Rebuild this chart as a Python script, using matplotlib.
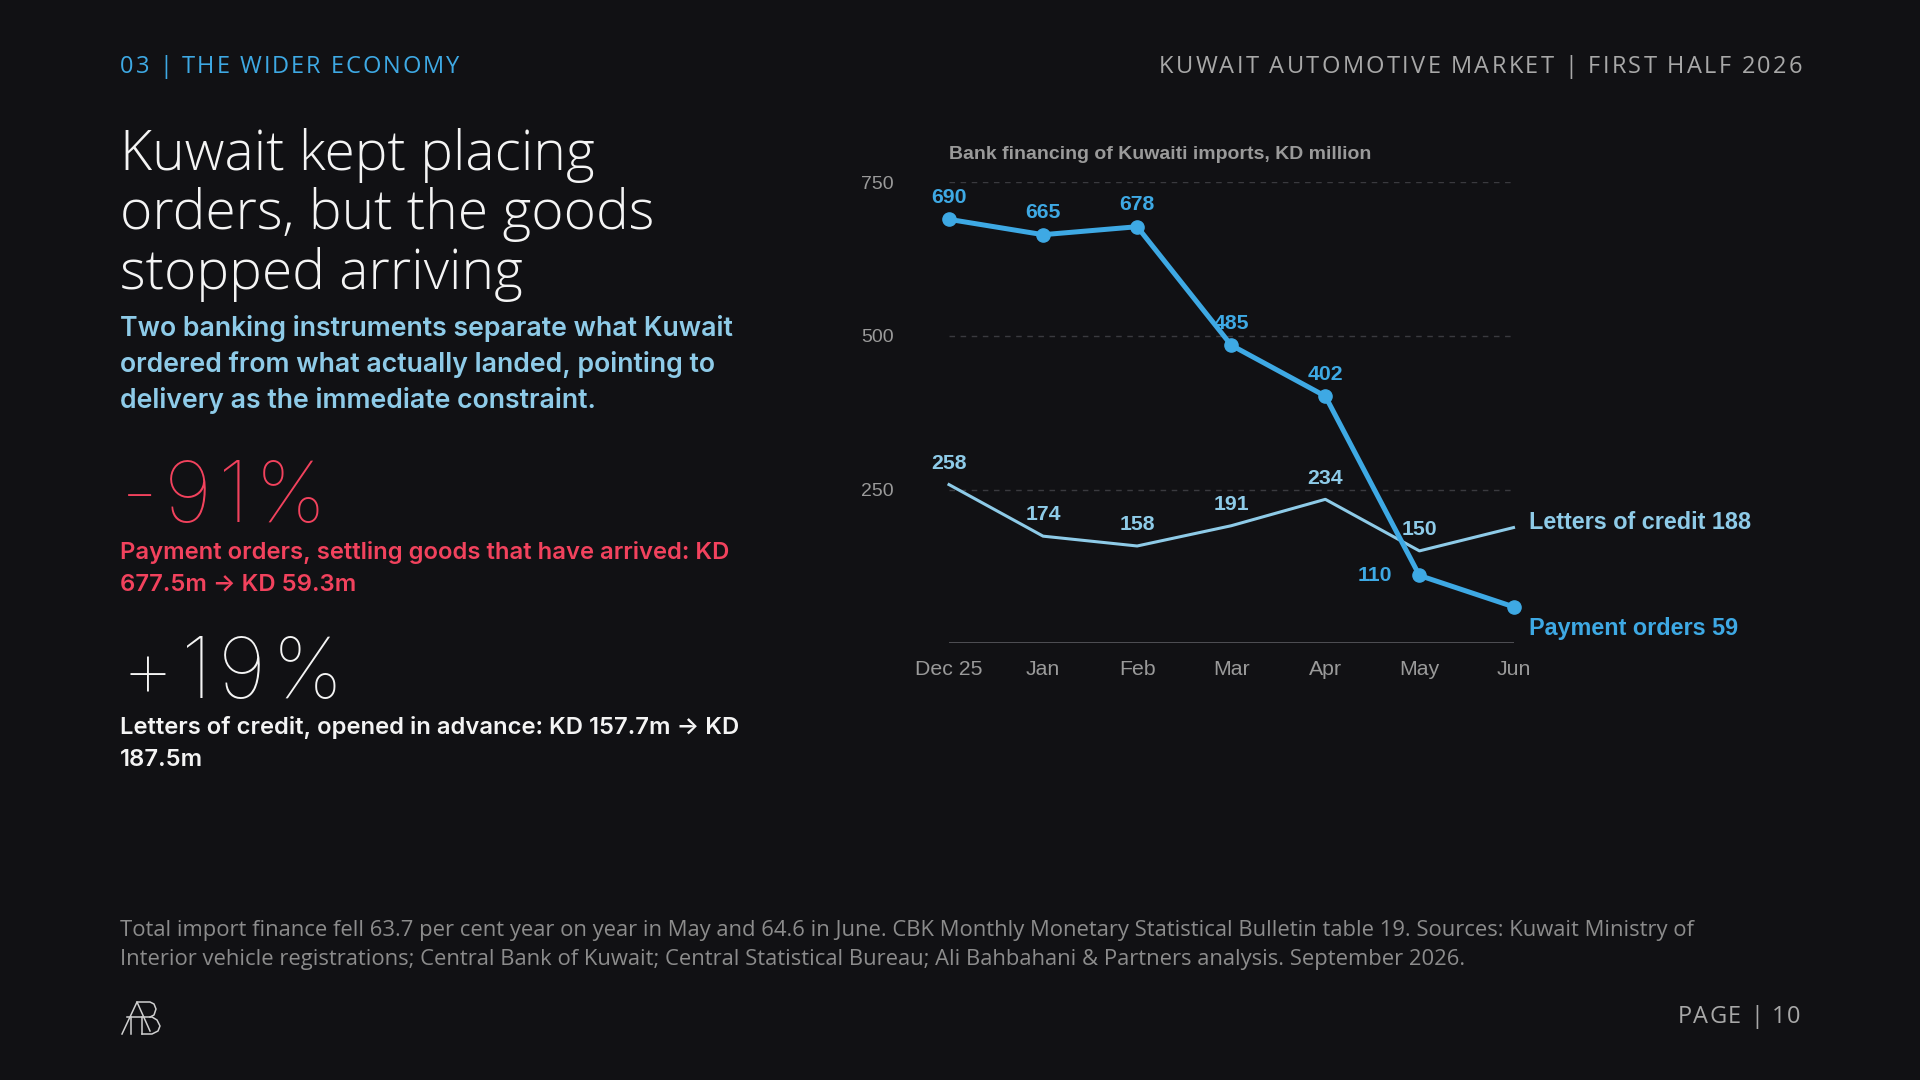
import numpy as np
import matplotlib.pyplot as plt
from matplotlib.lines import Line2D

# data
months = ["Dec 25", "Jan", "Feb", "Mar", "Apr", "May", "Jun"]
payment_orders = [690, 665, 678, 485, 402, 110, 59]
letters_of_credit = [258, 174, 158, 191, 234, 150, 188]
y_ticks = [250, 500, 750]

BG = "#111114"
BLUE = "#3ea9e4"
LIGHT = "#8ecbe8"
RED = "#f2425d"
GREY = "#9a9a9a"

HEAD_FONT = ["Open Sans", "Lato", "DejaVu Sans"]
BODY_FONT = ["Inter", "Lato", "DejaVu Sans"]
CHART_FONT = ["Liberation Sans", "DejaVu Sans"]

fig = plt.figure(figsize=(19.2, 10.8), dpi=100, facecolor=BG)
renderer = fig.canvas.get_renderer()


def put(x, y, s, **kw):
    # x, y in pixels from top-left of the 1920x1080 canvas
    kw.setdefault("va", "baseline")
    return fig.text(x / 1920, 1 - y / 1080, s, **kw)


def width_of(t):
    return t.get_window_extent(renderer).width


def fit(t, target):
    # scale font so the line spans the same width as in the reference
    t.set_fontsize(t.get_fontsize() * target / width_of(t))
    return t.get_fontsize()


def tracked(x, y, s, target, ha="left", **kw):
    # letter-spaced line, spread to the reference width
    probe = put(0, 0, s, **kw)
    natural = width_of(probe)
    probe.remove()
    gap = (target - natural) / (len(s) - 1)
    start = x if ha == "left" else x - target
    for i, ch in enumerate(s):
        if ch == " ":
            continue
        p = put(0, 0, s[:i + 1], **kw)
        q = put(0, 0, ch, **kw)
        left = width_of(p) - width_of(q)
        p.remove()
        q.remove()
        put(start + left + i * gap, y, ch, **kw)


# header / footer
tracked(120, 73, "03 | THE WIDER ECONOMY", 339, color=BLUE, fontsize=17, family=HEAD_FONT)
tracked(1802, 73, "KUWAIT AUTOMOTIVE MARKET | FIRST HALF 2026", 643, ha="right",
        color="#a8a8a8", fontsize=17, family=HEAD_FONT)
tracked(1800, 1023, "PAGE | 10", 122, ha="right", color="#a8a8a8", fontsize=17,
        family=HEAD_FONT)

# left column
title = ["Kuwait kept placing", "orders, but the goods", "stopped arriving"]
title_w = [486, 525, 400]
tl = [put(120, 170 + i * 59.5, line, color="#f4f4f4", fontsize=38, family=HEAD_FONT,
          weight="light") for i, line in enumerate(title)]
scale = sum(title_w) / sum(width_of(t) for t in tl)
for t in tl:
    t.set_fontsize(38 * scale)

sub = ["Two banking instruments separate what Kuwait",
       "ordered from what actually landed, pointing to",
       "delivery as the immediate constraint."]
sl = [put(120, 336 + i * 36, line, color=LIGHT, fontsize=18, family=BODY_FONT,
          weight="semibold") for i, line in enumerate(sub)]
fs = fit(sl[0], 612)
for t in sl[1:]:
    t.set_fontsize(fs)

tracked(121, 522, "-91%", 205, color=RED, fontsize=61, family=BODY_FONT, weight=100)
r1 = put(120, 559, "Payment orders, settling goods that have arrived: KD", color=RED,
         fontsize=15, family=BODY_FONT, weight="semibold")
fs = fit(r1, 611)
put(120, 591, "677.5m \u2192 KD 59.3m", color=RED, fontsize=fs, family=BODY_FONT,
    weight="semibold")

tracked(121, 698, "+19%", 222, color="#f4f4f4", fontsize=61, family=BODY_FONT, weight=100)
w1 = put(120, 734, "Letters of credit, opened in advance: KD 157.7m \u2192 KD", color="#f4f4f4",
         fontsize=15, family=BODY_FONT, weight="semibold")
fs = fit(w1, 620)
put(120, 766, "187.5m", color="#f4f4f4", fontsize=fs, family=BODY_FONT, weight="semibold")

foot = ["Total import finance fell 63.7 per cent year on year in May and 64.6 in June. "
        "CBK Monthly Monetary Statistical Bulletin table 19. Sources: Kuwait Ministry of",
        "Interior vehicle registrations; Central Bank of Kuwait; Central Statistical Bureau; "
        "Ali Bahbahani & Partners analysis. September 2026."]
fl = [put(120, 936 + i * 29.5, line, color="#8c8c8c", fontsize=14.5, family=HEAD_FONT)
      for i, line in enumerate(foot)]
fs = fit(fl[0], 1578)
fl[1].set_fontsize(fs)

# logo, thin outline strokes
logo = [
    [(122, 1034), (137, 1002), (150, 1031)],
    [(137, 1002), (150, 1002), (154, 1004), (156, 1009), (154, 1015), (150, 1017)],
    [(127, 1017), (152, 1017), (157, 1020), (160, 1026), (158, 1031), (152, 1034), (142, 1034)],
    [(131, 1017), (131, 1034)],
    [(142, 1017), (142, 1034)],
]
for pts in logo:
    xs = [p[0] / 1920 for p in pts]
    ys = [1 - p[1] / 1080 for p in pts]
    fig.add_artist(Line2D(xs, ys, color="#d0d0d0", lw=1.1, transform=fig.transFigure))

# chart
ax = fig.add_axes([949 / 1920, 1 - 643 / 1080, (1513.5 - 949) / 1920, (643 - 182.5) / 1080])
ax.set_facecolor(BG)
x = np.arange(len(months))
ax.set_xlim(0, len(months) - 1)
ax.set_ylim(0, 750)

for yt in y_ticks:
    ax.axhline(yt, color="#3a3a3f", lw=1, ls=(0, (4, 4)), zorder=1)
ax.axhline(0, color="#55555a", lw=2, zorder=2)

ax.plot(x, letters_of_credit, color=LIGHT, lw=2.2, zorder=3, clip_on=False)
ax.plot(x, payment_orders, color=BLUE, lw=3.6, marker="o", ms=9.5, zorder=4, clip_on=False)

for s in ax.spines.values():
    s.set_visible(False)
ax.set_yticks(y_ticks)
ax.set_xticks(x)
ax.set_xticklabels(months)
ax.tick_params(axis="y", length=0, pad=40, labelsize=14, labelcolor=GREY)
ax.tick_params(axis="x", length=0, pad=12.5, labelsize=15.3, labelcolor=GREY)
for lab in ax.get_xticklabels() + ax.get_yticklabels():
    lab.set_family(CHART_FONT)

lab_kw = dict(textcoords="offset points", fontsize=15.3, weight="bold", family=CHART_FONT,
              va="center")
for i, v in enumerate(payment_orders[:-1]):
    if i == 5:
        ax.annotate(str(v), (i, v), xytext=(-20, 0), ha="right", color=BLUE, **lab_kw)
    else:
        ax.annotate(str(v), (i, v), xytext=(0, 15.8), ha="center", color=BLUE, **lab_kw)
for i, v in enumerate(letters_of_credit[:-1]):
    ax.annotate(str(v), (i, v), xytext=(0, 15.3), ha="center", color=LIGHT, **lab_kw)

end_kw = dict(textcoords="offset points", fontsize=16.8, weight="bold", family=CHART_FONT,
              va="center", ha="left", annotation_clip=False)
ax.annotate(f"Letters of credit {letters_of_credit[-1]}", (6, letters_of_credit[-1]),
            xytext=(11.5, 3.5), color=LIGHT, **end_kw)
ax.annotate(f"Payment orders {payment_orders[-1]}", (6, payment_orders[-1]),
            xytext=(11.5, -16), color=BLUE, **end_kw)

put(949, 159, "Bank financing of Kuwaiti imports, KD million", color=GREY, fontsize=14,
    weight="bold", family=CHART_FONT)

fig.savefig("out.png", dpi=100, facecolor=BG)
